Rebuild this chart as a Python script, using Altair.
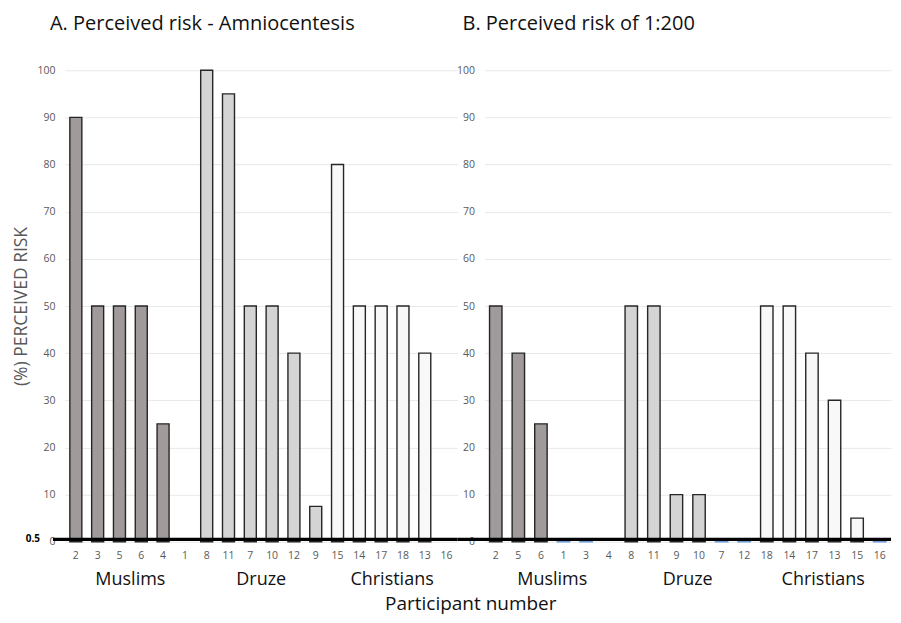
import altair as alt
import pandas as pd

# ---- data ----
groups = ["Muslims", "Druze", "Christians"]

order_A = ["2", "3", "5", "6", "4", "1", "8", "11", "7", "10", "12", "9",
           "15", "14", "17", "18", "13", "16"]
values_A = [90, 50, 50, 50, 25, 0, 100, 95, 50, 50, 40, 7.5,
            80, 50, 50, 50, 40, 0]

order_B = ["2", "5", "6", "1", "3", "4", "8", "11", "9", "10", "7", "12",
           "18", "14", "17", "13", "15", "16"]
values_B = [50, 40, 25, 0.5, 0.5, 0, 50, 50, 10, 10, 0.5, 0.5,
            50, 50, 40, 30, 5, 0.5]

group_of_bar = ["Muslims"] * 6 + ["Druze"] * 6 + ["Christians"] * 6
y_ticks = list(range(0, 101, 10))
threshold = 0.5

fills = {"Muslims": "#a09a9a", "Druze": "#d4d4d4", "Christians": "#f8f8f8"}
tiny_fill = "#6a9ad8"

FONT = "Open Sans"
H = 472
W_A = 393
W_B = 407


def make_df(order, values):
    df = pd.DataFrame({"participant": order, "risk": values, "group": group_of_bar})
    df["fill"] = [tiny_fill if v <= threshold else fills[g]
                  for v, g in zip(df["risk"], df["group"])]
    df["stroke"] = [tiny_fill if v <= threshold else "#262626" for v in df["risk"]]
    return df[df["risk"] > 0]


def panel(order, values, title, W, show_y_title, title_dx, rule_left):
    df = make_df(order, values)
    xscale = alt.Scale(domain=order, paddingInner=0.45)
    yscale = alt.Scale(domain=[0, 100], nice=False)

    bars = alt.Chart(df).mark_bar(strokeWidth=1.4).encode(
        x=alt.X("participant:N", scale=xscale, sort=order,
                axis=alt.Axis(title=None, labelAngle=0, ticks=False, domain=False,
                              labelPadding=9, labelFontSize=10.5, labelColor="#595959",
                              labelFont=FONT, grid=False)),
        y=alt.Y("risk:Q", scale=yscale,
                axis=alt.Axis(values=y_ticks, ticks=False, domain=False,
                              labelPadding=10, labelFontSize=10.5, labelColor="#595959",
                              labelFont=FONT, gridColor="#e8e8e8",
                              title="(%) PERCEIVED RISK" if show_y_title else None,
                              titleFont=FONT, titleFontSize=17.5, titleFontWeight="normal",
                              titleColor="#595959", titlePadding=6)),
        fill=alt.Fill("fill:N", scale=None),
        stroke=alt.Stroke("stroke:N", scale=None),
    )

    rule_df = pd.DataFrame({"v": [threshold]})
    rule = alt.Chart(rule_df).mark_rule(color="black", strokeWidth=3.2).encode(
        y=alt.Y("v:Q", scale=yscale),
        x=alt.value(rule_left),
        x2=alt.value(W),
    )

    step = W / len(order)
    lab_df = pd.DataFrame({"participant": [order[2], order[8], order[14]], "label": groups})
    labels = alt.Chart(lab_df).mark_text(
        fontSize=18, font=FONT, color="#111111", baseline="middle", dx=step / 2
    ).encode(
        x=alt.X("participant:N", scale=xscale, sort=order),
        y=alt.value(H + 38),
        text="label:N",
    )

    layers = [bars, rule, labels]
    if show_y_title:
        half = alt.Chart(rule_df).mark_text(
            text="0.5", fontWeight="bold", fontSize=10, font=FONT, color="black",
            align="right", baseline="middle"
        ).encode(y=alt.Y("v:Q", scale=yscale), x=alt.value(-25))
        layers.append(half)

    return alt.layer(*layers).properties(
        width=W, height=H,
        title=alt.TitleParams(title, anchor="start", frame="group", dx=title_dx,
                              fontSize=20, fontWeight="normal", font=FONT,
                              color="#111111", offset=31),
    )


A = panel(order_A, values_A, "A. Perceived risk - Amniocentesis", W_A, True, -15, -12)
B = panel(order_B, values_B, "B. Perceived risk of 1:200", W_B, False, -22, -27)

chart = alt.hconcat(A, B, spacing=27, bounds="flush").properties(
    title=alt.TitleParams("Participant number", orient="bottom", anchor="middle",
                          fontSize=19, fontWeight="normal", font=FONT,
                          color="#111111", offset=6, dx=18),
    padding={"left": 4, "top": 6, "right": 0, "bottom": 2},
).configure_view(stroke=None)

chart.save("out.html", embed_options={"renderer": "svg", "actions": False})
